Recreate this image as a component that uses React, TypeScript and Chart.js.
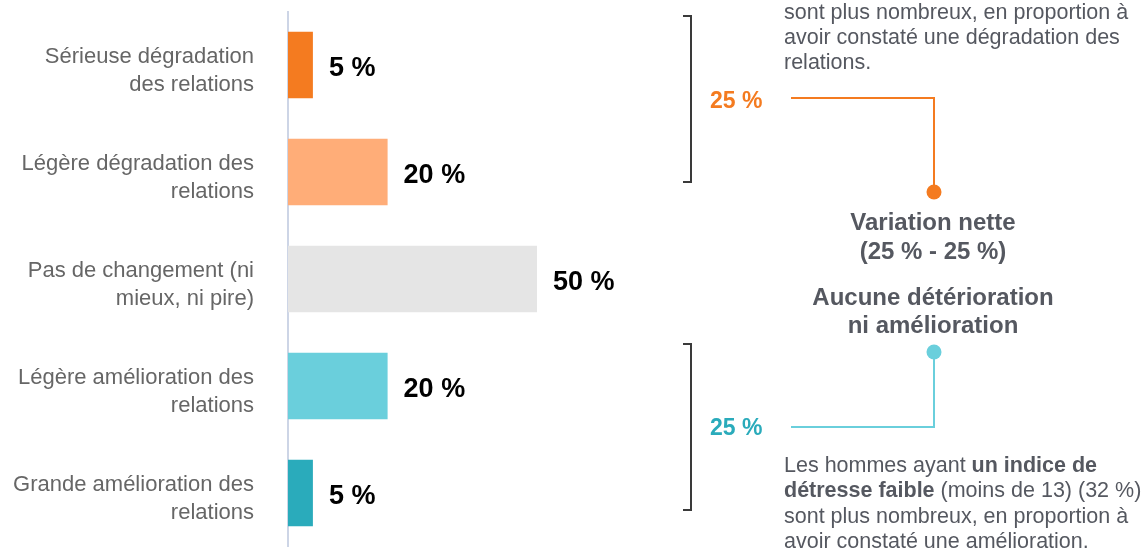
import React, { useEffect, useRef } from "react";
import { Chart, registerables } from "chart.js";

Chart.register(...registerables);

const FONT = "'Liberation Sans', Arial, Helvetica, sans-serif";

const categories: string[][] = [
  ["Sérieuse dégradation", "des relations"],
  ["Légère dégradation des", "relations"],
  ["Pas de changement (ni", "mieux, ni pire)"],
  ["Légère amélioration des", "relations"],
  ["Grande amélioration des", "relations"],
];
const values = [5, 20, 50, 20, 5];
const barColors = ["#f47b20", "#ffad78", "#e5e5e5", "#6acfdc", "#2aabbb"];
const valueLabels = values.map((v) => `${v} %`);

const deterioration = values[0] + values[1];
const improvement = values[3] + values[4];

const topNoteLines = [
  "sont plus nombreux, en proportion à",
  "avoir constaté une dégradation des",
  "relations.",
];
const centerLines = [
  "Variation nette",
  `(${deterioration} % - ${improvement} %)`,
];
const centerLines2 = ["Aucune détérioration", "ni amélioration"];
const bottomNoteRuns: [string, boolean][][] = [
  [["Les hommes ayant ", false], ["un indice de", true]],
  [["détresse faible", true], [" (moins de 13) (32 %)", false]],
  [["sont plus nombreux, en proportion à", false]],
  [["avoir constaté une amélioration.", false]],
];

const TEXT_GREY = "#555860";
const ORANGE = "#f47b20";
const TEAL_LINE = "#6acfdc";
const TEAL_TEXT = "#2aabbb";

const valueLabelPlugin = {
  id: "valueLabels",
  afterDatasetsDraw(chart: any) {
    const ctx = chart.ctx;
    const meta = chart.getDatasetMeta(0);
    ctx.save();
    ctx.font = `bold 27px ${FONT}`;
    ctx.fillStyle = "#000000";
    ctx.textAlign = "left";
    ctx.textBaseline = "middle";
    meta.data.forEach((bar: any, i: number) => {
      ctx.fillText(valueLabels[i], bar.x + 16, bar.y + 4);
    });
    ctx.restore();
  },
};

const annotationPlugin = {
  id: "annotations",
  afterDraw(chart: any) {
    const ctx = chart.ctx;
    ctx.save();

    // brackets
    ctx.strokeStyle = "#3a3a3a";
    ctx.lineWidth = 2;
    const bracket = (top: number, bottom: number) => {
      ctx.beginPath();
      ctx.moveTo(683, top);
      ctx.lineTo(691, top);
      ctx.lineTo(691, bottom);
      ctx.lineTo(683, bottom);
      ctx.stroke();
    };
    bracket(16, 182);
    bracket(344, 510);

    // connector lines
    ctx.lineWidth = 2;
    ctx.strokeStyle = ORANGE;
    ctx.beginPath();
    ctx.moveTo(791, 98);
    ctx.lineTo(934, 98);
    ctx.lineTo(934, 192);
    ctx.stroke();
    ctx.fillStyle = ORANGE;
    ctx.beginPath();
    ctx.arc(934, 192, 7.5, 0, Math.PI * 2);
    ctx.fill();

    ctx.strokeStyle = TEAL_LINE;
    ctx.beginPath();
    ctx.moveTo(934, 352);
    ctx.lineTo(934, 427);
    ctx.lineTo(791, 427);
    ctx.stroke();
    ctx.fillStyle = TEAL_LINE;
    ctx.beginPath();
    ctx.arc(934, 352, 7.5, 0, Math.PI * 2);
    ctx.fill();

    // 25 % labels
    ctx.textBaseline = "middle";
    ctx.textAlign = "left";
    ctx.font = `bold 23px ${FONT}`;
    ctx.fillStyle = ORANGE;
    ctx.fillText(`${deterioration} %`, 710, 102);
    ctx.fillStyle = TEAL_TEXT;
    ctx.fillText(`${improvement} %`, 710, 429);

    // top note
    ctx.fillStyle = TEXT_GREY;
    ctx.font = `21.5px ${FONT}`;
    topNoteLines.forEach((l, i) => ctx.fillText(l, 784, 13 + i * 25));

    // center text
    ctx.textAlign = "center";
    ctx.font = `bold 24px ${FONT}`;
    centerLines.forEach((l, i) => ctx.fillText(l, 933, 223 + i * 29));
    centerLines2.forEach((l, i) => ctx.fillText(l, 933, 298 + i * 28));

    // bottom note with bold runs
    ctx.textAlign = "left";
    bottomNoteRuns.forEach((runs, i) => {
      let x = 784;
      const y = 466 + i * 25.5;
      runs.forEach(([t, b]) => {
        ctx.font = `${b ? "bold " : ""}21.5px ${FONT}`;
        ctx.fillText(t, x, y);
        x += ctx.measureText(t).width;
      });
    });

    ctx.restore();
  },
};

export default function App() {
  const canvasRef = useRef<HTMLCanvasElement | null>(null);

  useEffect(() => {
    document.body.style.margin = "0";
    const canvas = canvasRef.current;
    if (!canvas) return;
    const chart = new Chart(canvas, {
      type: "bar",
      data: {
        labels: categories,
        datasets: [
          {
            data: values,
            backgroundColor: barColors,
            borderWidth: 0,
            barPercentage: 0.62,
            categoryPercentage: 1,
          },
        ],
      },
      options: {
        indexAxis: "y",
        animation: false,
        responsive: true,
        maintainAspectRatio: false,
        layout: { padding: { top: 11.5, bottom: 4.5, left: 0, right: 358 } },
        plugins: {
          legend: { display: false },
          tooltip: { enabled: false },
        },
        scales: {
          x: {
            display: false,
            min: 0,
            max: 100,
          },
          y: {
            afterFit: (scale: any) => {
              scale.width = 288;
              scale.paddingTop = 0;
              scale.paddingBottom = 0;
            },
            grid: { display: false, drawTicks: false },
            border: { display: true, color: "#cdd5e6", width: 2 },
            ticks: {
              padding: 34,
              labelOffset: 6,
              color: "#666666",
              font: { family: FONT, size: 22, lineHeight: 1.25 },
            },
          },
        },
      },
      plugins: [valueLabelPlugin, annotationPlugin],
    });
    return () => chart.destroy();
  }, []);

  return (
    <div style={{ position: "relative", width: 1144, height: 551 }}>
      <canvas ref={canvasRef} />
    </div>
  );
}
